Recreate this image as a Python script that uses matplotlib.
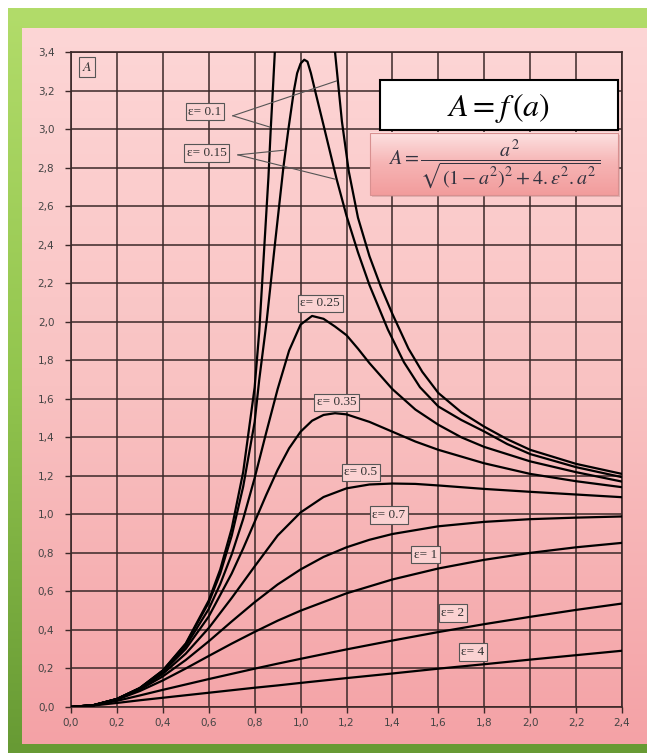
import numpy as np
import matplotlib
matplotlib.use("Agg")
import matplotlib.pyplot as plt
from matplotlib.colors import LinearSegmentedColormap
from matplotlib.patches import Rectangle
from matplotlib.ticker import FuncFormatter

plt.rcParams['mathtext.fontset'] = 'stix'

# values, A(a) for every epsilon
a_01 = [0, 0.1, 0.2, 0.3, 0.4, 0.5, 0.6, 0.65, 0.7, 0.75, 0.8, 0.82, 0.84, 0.86, 0.87, 0.88,
        0.89, 0.92, 0.96, 1.0, 1.04, 1.08, 1.12, 1.15, 1.18, 1.21, 1.25, 1.3, 1.35, 1.4, 1.47,
        1.53, 1.6, 1.7, 1.8, 1.9, 2.0, 2.2, 2.4]
A_01 = [0, 0.010, 0.042, 0.099, 0.190, 0.330, 0.553, 0.714, 0.927, 1.22, 1.66, 1.95, 2.35, 2.75,
        3.0, 3.22, 3.45, 4.1, 4.8, 5.0, 4.8, 4.4, 3.8, 3.40, 3.04, 2.78, 2.54, 2.34, 2.18, 2.04,
        1.86, 1.74, 1.63, 1.53, 1.455, 1.39, 1.335, 1.262, 1.21]

a_015 = [0, 0.1, 0.2, 0.3, 0.4, 0.5, 0.6, 0.65, 0.7, 0.75, 0.8, 0.82, 0.852, 0.888, 0.925, 0.947,
         0.971, 0.985, 1.0, 1.016, 1.03, 1.045, 1.063, 1.10, 1.157, 1.20, 1.25, 1.30, 1.38, 1.45,
         1.52, 1.6, 1.7, 1.8, 1.9, 2.0, 2.2, 2.4]
A_015 = [0, 0.010, 0.042, 0.098, 0.189, 0.327, 0.542, 0.693, 0.889, 1.144, 1.48, 1.70, 2.0, 2.4,
         2.8, 3.0, 3.2, 3.29, 3.34, 3.36, 3.35, 3.29, 3.20, 3.02, 2.74, 2.55, 2.36, 2.19, 1.96,
         1.79, 1.66, 1.56, 1.49, 1.43, 1.365, 1.313, 1.245, 1.193]

a_025 = [0, 0.1, 0.2, 0.3, 0.4, 0.5, 0.6, 0.65, 0.7, 0.75, 0.8, 0.85, 0.9, 0.95, 1.0, 1.05, 1.1,
         1.15, 1.2, 1.25, 1.3, 1.4, 1.5, 1.6, 1.7, 1.8, 2.0, 2.2, 2.4]
A_025 = [0, 0.010, 0.041, 0.098, 0.185, 0.316, 0.509, 0.638, 0.792, 0.976, 1.189, 1.423, 1.650,
         1.850, 1.985, 2.030, 2.015, 1.975, 1.930, 1.860, 1.785, 1.650, 1.544, 1.465, 1.400,
         1.350, 1.275, 1.219, 1.170]

a_035 = [0, 0.1, 0.2, 0.3, 0.4, 0.5, 0.6, 0.7, 0.75, 0.8, 0.85, 0.9, 0.95, 1.0, 1.05, 1.1, 1.15,
         1.2, 1.3, 1.4, 1.5, 1.6, 1.8, 2.0, 2.2, 2.4]
A_035 = [0, 0.010, 0.041, 0.096, 0.181, 0.302, 0.470, 0.693, 0.823, 0.961, 1.100, 1.231, 1.343,
         1.429, 1.486, 1.516, 1.525, 1.519, 1.480, 1.429, 1.378, 1.335, 1.265, 1.210, 1.172, 1.141]

a_05 = [0, 0.1, 0.2, 0.3, 0.4, 0.5, 0.6, 0.7, 0.8, 0.9, 1.0, 1.1, 1.2, 1.3, 1.4, 1.5, 1.6,
        1.8, 2.0, 2.2, 2.4]
A_05 = [0, 0.010, 0.041, 0.094, 0.172, 0.277, 0.410, 0.566, 0.730, 0.890, 1.010, 1.090, 1.135,
        1.155, 1.160, 1.158, 1.150, 1.132, 1.117, 1.103, 1.089]

a_07 = [0, 0.1, 0.2, 0.3, 0.4, 0.5, 0.6, 0.7, 0.8, 0.9, 1.0, 1.1, 1.2, 1.3, 1.4,
        1.6, 1.8, 2.0, 2.2, 2.4]
A_07 = [0, 0.010, 0.040, 0.090, 0.159, 0.244, 0.341, 0.444, 0.544, 0.636, 0.714, 0.779, 0.829,
        0.868, 0.898, 0.938, 0.961, 0.975, 0.983, 0.989]

a_low = [0, 0.1, 0.2, 0.3, 0.4, 0.5, 0.6, 0.7, 0.8, 0.9, 1.0, 1.2, 1.4, 1.6, 1.8, 2.0, 2.2, 2.4]
A_1 = [0, 0.010, 0.038, 0.083, 0.138, 0.200, 0.265, 0.329, 0.390, 0.448, 0.500, 0.590, 0.662,
       0.719, 0.764, 0.800, 0.829, 0.852]
A_2 = [0, 0.009, 0.032, 0.060, 0.089, 0.117, 0.145, 0.172, 0.199, 0.225, 0.250, 0.299, 0.345,
       0.389, 0.430, 0.468, 0.504, 0.537]
A_4 = [0, 0.008, 0.021, 0.035, 0.048, 0.061, 0.074, 0.087, 0.100, 0.112, 0.125, 0.150, 0.174,
       0.199, 0.222, 0.246, 0.269, 0.292]

curves = [(a_01, A_01), (a_015, A_015), (a_025, A_025), (a_035, A_035), (a_05, A_05),
          (a_07, A_07), (a_low, A_1), (a_low, A_2), (a_low, A_4)]

# curve labels and where they sit
labels = ["ε= 0.1", "ε= 0.15", "ε= 0.25", "ε= 0.35", "ε= 0.5", "ε= 0.7", "ε= 1", "ε= 2", "ε= 4"]
label_pos = [(0.584, 3.09), (0.592, 2.876), (1.085, 2.095), (1.158, 1.581), (1.263, 1.218),
             (1.385, 0.997), (1.544, 0.791), (1.664, 0.488), (1.751, 0.286)]

x_ticks = np.arange(0, 2.41, 0.2)
y_ticks = np.arange(0, 3.41, 0.2)

fig = plt.figure(figsize=(6.47, 7.53), dpi=100)
fig.patch.set_facecolor('white')

# background: green frame and pink panel
bg = fig.add_axes([0, 0, 1, 1], zorder=-10)
grad = np.linspace(0, 1, 256).reshape(-1, 1)
green_cmap = LinearSegmentedColormap.from_list('g', ['#b2dc6a', '#92c54e', '#679a34'])
pink_cmap = LinearSegmentedColormap.from_list('p', ['#fdd6d6', '#f9c2c2', '#f4a2a6'])
bg.imshow(grad, extent=(8, 660, 753, 8), cmap=green_cmap, aspect='auto')
bg.imshow(grad, extent=(22, 660, 744, 28), cmap=pink_cmap, aspect='auto')
bg.set_xlim(0, 647)
bg.set_ylim(753, 0)
bg.axis('off')

ax = fig.add_axes([71 / 647, 1 - 707 / 753, 551 / 647, 655 / 753])
ax.set_facecolor('none')

for a, A in curves:
    ax.plot(a, A, color='black', lw=1.6, zorder=3)

ax.set_xticks(x_ticks)
ax.set_yticks(y_ticks)
comma = FuncFormatter(lambda v, p: f"{v:.1f}".replace('.', ','))
ax.xaxis.set_major_formatter(comma)
ax.yaxis.set_major_formatter(comma)
ax.tick_params(axis='both', direction='out', length=4, width=1.0, color='#3a2828',
               labelsize=7.5, labelcolor='#444444')
ax.tick_params(axis='y', pad=8)
ax.tick_params(axis='x', pad=4)
ax.set_axisbelow(True)
ax.grid(True, color='#3a2828', lw=1.1)
for s in ax.spines.values():
    s.set_color('#3a2828')
    s.set_linewidth(1.2)

# curve labels
for (x, y), t in zip(label_pos, labels):
    ax.text(x, y, t, fontsize=9.5, family='Liberation Serif', color='#333333', ha='center',
            va='center', zorder=6,
            bbox=dict(boxstyle='square,pad=0.2', fc='#fbd2d2', ec='#555555', lw=0.8))

# leader lines
ax.plot([0.705, 0.867], [3.069, 3.01], color='#555555', lw=0.8, zorder=4)
ax.plot([0.705, 1.157], [3.069, 3.25], color='#555555', lw=0.8, zorder=4)
ax.plot([0.727, 0.925], [2.866, 2.89], color='#555555', lw=0.8, zorder=4)
ax.plot([0.727, 1.150], [2.866, 2.74], color='#555555', lw=0.8, zorder=4)

# "A" tag in the corner
ax.text(0.07, 3.322, r'$A$', fontsize=10, color='#333333', ha='center', va='center', zorder=6,
        bbox=dict(boxstyle='square,pad=0.2', fc='#fbd2d2', ec='#555555', lw=0.8))

# title box
ax.add_patch(Rectangle((1.346, 2.996), 1.035, 0.259, fc='white', ec='black', lw=1.5, zorder=7))
ax.text(1.860, 3.11, r'$A = f\,(a)$', fontsize=23, ha='center', va='center', zorder=8)

# formula box with shadow
ax.add_patch(Rectangle((1.312, 2.645), 1.079, 0.322, fc='#b08080', ec='none', alpha=0.35,
                       zorder=6))
ax.imshow(grad, extent=(1.302, 2.381, 2.658, 2.980),
          cmap=LinearSegmentedColormap.from_list('f', ['#fde2e2', '#f6b4b4', '#f29c9c']),
          aspect='auto', zorder=7)
ax.add_patch(Rectangle((1.302, 2.658), 1.079, 0.322, fc='none', ec='#d89090', lw=0.8, zorder=8))
ax.text(1.842, 2.819, r'$A = \dfrac{a^2}{\sqrt{(1-a^2)^2 + 4.\varepsilon^2.a^2}}$',
        fontsize=14.5, color='#333340', ha='center', va='center', zorder=9)

ax.set_xlim(0, 2.4)
ax.set_ylim(0, 3.4)

fig.savefig('out.png', dpi=100)
